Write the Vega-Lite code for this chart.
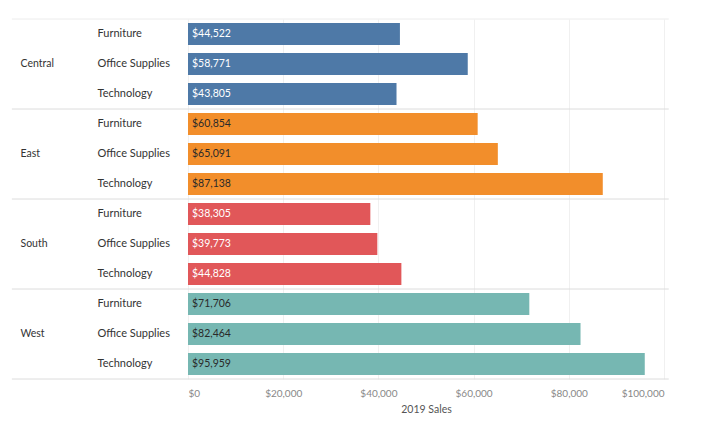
{
  "$schema": "https://vega.github.io/schema/vega-lite/v6.json",
  "autosize": {"type": "none"},
  "padding": {"left": 188, "top": 19, "right": 44, "bottom": 65},
  "width": 476,
  "height": 360,
  "background": "white",
  "config": {"view": {"stroke": null}, "font": "Lato"},
  "data": {
    "values": [
      {"Region": "Central", "Category": "Furniture", "Sales": 44522},
      {"Region": "Central", "Category": "Office Supplies", "Sales": 58771},
      {"Region": "Central", "Category": "Technology", "Sales": 43805},
      {"Region": "East", "Category": "Furniture", "Sales": 60854},
      {"Region": "East", "Category": "Office Supplies", "Sales": 65091},
      {"Region": "East", "Category": "Technology", "Sales": 87138},
      {"Region": "South", "Category": "Furniture", "Sales": 38305},
      {"Region": "South", "Category": "Office Supplies", "Sales": 39773},
      {"Region": "South", "Category": "Technology", "Sales": 44828},
      {"Region": "West", "Category": "Furniture", "Sales": 71706},
      {"Region": "West", "Category": "Office Supplies", "Sales": 82464},
      {"Region": "West", "Category": "Technology", "Sales": 95959}
    ]
  },
  "transform": [{"calculate": "datum.Region + '|' + datum.Category", "as": "Key"}],
  "resolve": {"axis": {"y": "independent"}},
  "layer": [
    {
      "mark": {"type": "bar", "height": {"band": 0.73}},
      "encoding": {
        "y": {
          "field": "Key", "type": "nominal", "sort": null,
          "scale": {"paddingInner": 0, "paddingOuter": 0},
          "axis": {
            "title": null, "orient": "left", "domain": false, "ticks": false, "tickSize": 0,
            "labelAlign": "left", "labelPadding": 91, "labelFontSize": 11, "labelColor": "#333",
            "labelExpr": "split(datum.value, '|')[1]"
          }
        },
        "x": {
          "field": "Sales", "type": "quantitative",
          "scale": {"domain": [0, 100000], "nice": false},
          "axis": {
            "title": "2019 Sales", "values": [0, 20000, 40000, 60000, 80000, 100000],
            "format": "$,d", "labelFlush": true, "domain": false, "ticks": false,
            "grid": true, "gridColor": "#f0f0f0", "labelColor": "#888", "labelFontSize": 10,
            "labelPadding": 9, "titleFontSize": 10.5, "titleFontWeight": "normal",
            "titleColor": "#555", "titlePadding": 6
          }
        },
        "color": {
          "field": "Region", "type": "nominal", "legend": null,
          "scale": {"domain": ["Central", "East", "South", "West"], "range": ["#4e79a7", "#f28e2b", "#e15759", "#76b7b2"]}
        }
      }
    },
    {
      "mark": {"type": "text", "align": "left", "baseline": "middle", "dx": 4, "fontSize": 10.5},
      "encoding": {
        "y": {
          "field": "Key", "type": "nominal", "sort": null,
          "axis": {
            "title": null, "orient": "left", "domain": false, "ticks": false, "tickSize": 0,
            "labelAlign": "left", "labelPadding": 168, "labelFontSize": 10.5, "labelColor": "#333",
            "labelExpr": "split(datum.value, '|')[1] == 'Office Supplies' ? split(datum.value, '|')[0] : ''"
          }
        },
        "x": {"datum": 0},
        "text": {"field": "Sales", "type": "quantitative", "format": "$,d"},
        "color": {
          "condition": {"test": "datum.Region == 'Central' || datum.Region == 'South'", "value": "#ffffff"},
          "value": "#2a2a2a"
        }
      }
    },
    {
      "transform": [{"filter": "datum.Category == 'Technology'"}],
      "mark": {"type": "rule", "color": "#dcdcdc", "strokeWidth": 1},
      "encoding": {
        "y": {"field": "Key", "type": "nominal", "sort": null, "bandPosition": 1, "axis": null},
        "x": {"datum": -37000},
        "x2": {"datum": 101000}
      }
    },
    {
      "transform": [{"filter": "datum.Region == 'Central' && datum.Category == 'Furniture'"}],
      "mark": {"type": "rule", "color": "#ececec", "strokeWidth": 1},
      "encoding": {
        "y": {"field": "Key", "type": "nominal", "sort": null, "bandPosition": 0, "axis": null},
        "x": {"datum": -37000},
        "x2": {"datum": 101000}
      }
    }
  ]
}
